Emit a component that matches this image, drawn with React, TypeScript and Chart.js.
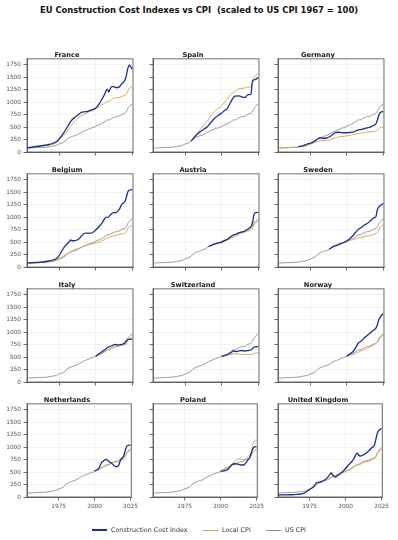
import React, { useEffect, useRef } from 'react';
import { Chart, registerables } from 'chart.js';

Chart.register(...registerables);
Chart.defaults.font.family = "'DejaVu Sans', sans-serif";

type Pt = [number, number];

// ---------- data (year, value scaled to US CPI 1967 = 100) ----------
const US_CPI: Pt[] = [[1953,80],[1954,81],[1955,80],[1956,81],[1957,84],[1958,87],[1959,87],[1960,89],[1961,90],[1962,90],[1963,92],[1964,93],[1965,94],[1966,97],[1967,100],[1968,104],[1969,110],[1970,116],[1971,121],[1972,125],[1973,133],[1974,148],[1975,161],[1976,170],[1977,181],[1978,195],[1979,217],[1980,247],[1981,272],[1982,289],[1983,298],[1984,311],[1985,322],[1986,328],[1987,340],[1988,354],[1989,371],[1990,391],[1991,408],[1992,420],[1993,433],[1994,444],[1995,456],[1996,470],[1997,481],[1998,488],[1999,499],[2000,516],[2001,530],[2002,539],[2003,551],[2004,566],[2005,585],[2006,604],[2007,621],[2008,645],[2009,642],[2010,653],[2011,673],[2012,687],[2013,698],[2014,709],[2015,710],[2016,719],[2017,734],[2018,752],[2019,766],[2020,775],[2021,811],[2022,876],[2023,912],[2024,939],[2025,961]];

const FRANCE_CCI: Pt[] = [[1953,80],[1956,95],[1959,110],[1962,120],[1965,135],[1968,150],[1970,165],[1972,190],[1974,230],[1976,300],[1978,380],[1980,470],[1982,570],[1984,650],[1986,700],[1988,745],[1990,790],[1992,805],[1994,810],[1996,830],[1998,850],[2000,880],[2002,950],[2004,1040],[2006,1150],[2007,1220],[2008,1260],[2009,1200],[2010,1270],[2011,1310],[2012,1310],[2014,1290],[2016,1300],[2018,1370],[2019,1400],[2020,1440],[2021,1540],[2022,1680],[2023,1745],[2024,1700],[2025,1660]];
const FRANCE_CPI: Pt[] = [[1953,80],[1956,90],[1959,105],[1962,115],[1965,125],[1968,140],[1970,150],[1972,170],[1974,210],[1976,270],[1978,330],[1980,400],[1982,480],[1984,560],[1986,620],[1988,680],[1990,725],[1992,760],[1994,785],[1996,810],[1998,835],[2000,865],[2002,900],[2004,940],[2006,975],[2008,1010],[2010,1030],[2012,1070],[2014,1085],[2016,1090],[2018,1110],[2020,1140],[2021,1160],[2022,1220],[2023,1280],[2024,1305],[2025,1310]];

const SPAIN_CCI: Pt[] = [[1979,217],[1980,250],[1983,350],[1985,400],[1988,460],[1990,500],[1992,570],[1995,670],[1998,740],[2000,780],[2002,830],[2004,880],[2006,990],[2007,1045],[2009,1120],[2012,1125],[2014,1100],[2016,1095],[2018,1150],[2020,1155],[2021,1420],[2023,1450],[2025,1490]];
const SPAIN_CPI: Pt[] = [[1979,217],[1980,250],[1983,360],[1985,440],[1988,550],[1990,610],[1992,700],[1995,810],[1998,880],[2000,925],[2002,1000],[2004,1070],[2006,1145],[2009,1210],[2012,1270],[2015,1277],[2017,1297],[2020,1300],[2021,1360],[2022,1480],[2023,1530],[2025,1575]];

const GERMANY_CCI: Pt[] = [[1967,110],[1970,125],[1973,160],[1975,175],[1978,220],[1980,260],[1982,285],[1984,275],[1986,280],[1988,300],[1990,340],[1992,385],[1994,395],[1996,390],[1998,385],[2000,385],[2002,390],[2004,395],[2006,420],[2008,445],[2010,450],[2012,470],[2014,485],[2016,500],[2018,525],[2020,565],[2021,640],[2022,740],[2023,790],[2024,805],[2025,810]];
const GERMANY_CPI: Pt[] = [[1953,80],[1958,82],[1962,90],[1966,100],[1970,115],[1973,140],[1975,160],[1978,190],[1980,210],[1982,225],[1985,235],[1988,240],[1990,262],[1993,290],[1995,305],[1998,315],[2000,322],[2003,340],[2005,352],[2008,370],[2010,375],[2013,395],[2015,400],[2018,410],[2020,418],[2021,435],[2022,468],[2023,490],[2025,500]];

const BELGIUM_CCI: Pt[] = [[1953,80],[1956,85],[1960,90],[1964,100],[1968,120],[1970,133],[1972,150],[1974,190],[1976,280],[1978,380],[1980,450],[1982,510],[1983,540],[1984,525],[1986,530],[1988,550],[1990,610],[1992,670],[1994,680],[1996,675],[1998,690],[2000,740],[2002,800],[2004,870],[2006,960],[2007,1000],[2008,990],[2010,1040],[2012,1090],[2014,1090],[2016,1150],[2018,1260],[2020,1310],[2021,1400],[2022,1510],[2024,1545],[2025,1550]];
const BELGIUM_CPI: Pt[] = [[1953,80],[1958,85],[1962,90],[1966,100],[1970,115],[1973,135],[1975,165],[1978,215],[1980,255],[1983,310],[1985,340],[1988,370],[1990,395],[1993,430],[1995,445],[1998,465],[2000,480],[2003,510],[2005,532],[2008,580],[2010,600],[2012,625],[2015,640],[2018,665],[2020,680],[2021,710],[2022,775],[2023,810],[2025,828]];

const AUSTRIA_CCI: Pt[] = [[1991,408],[1993,435],[1995,460],[1997,475],[2000,500],[2003,540],[2005,575],[2008,640],[2010,660],[2012,690],[2015,710],[2018,760],[2020,810],[2021,880],[2022,1040],[2023,1090],[2025,1095]];
const AUSTRIA_CPI: Pt[] = [[1991,408],[1993,440],[1995,465],[1998,480],[2000,495],[2003,530],[2005,555],[2008,600],[2010,620],[2012,660],[2015,690],[2018,720],[2020,745],[2021,770],[2022,840],[2023,885],[2025,905]];

const SWEDEN_CCI: Pt[] = [[1988,354],[1990,395],[1992,420],[1994,440],[1996,465],[1998,490],[2000,520],[2002,565],[2004,620],[2006,690],[2008,755],[2010,790],[2012,840],[2014,870],[2016,920],[2018,975],[2019,990],[2020,1010],[2021,1150],[2022,1200],[2023,1230],[2025,1270]];
const SWEDEN_CPI: Pt[] = [[1988,354],[1990,400],[1992,440],[1995,470],[1998,490],[2000,505],[2003,540],[2005,550],[2008,585],[2010,595],[2013,615],[2015,620],[2018,650],[2020,670],[2021,690],[2022,750],[2023,810],[2025,840]];

const ITALY_CCI: Pt[] = [[2000,516],[2002,560],[2004,600],[2006,640],[2008,690],[2010,710],[2012,740],[2013,755],[2015,745],[2017,750],[2019,765],[2020,780],[2021,830],[2022,850],[2023,855],[2025,858]];
const ITALY_CPI: Pt[] = [[2000,516],[2002,545],[2004,575],[2006,605],[2008,640],[2010,665],[2012,715],[2013,730],[2015,725],[2017,730],[2019,740],[2020,740],[2021,760],[2022,840],[2023,870],[2025,885]];

const SWITZERLAND_CCI: Pt[] = [[2000,516],[2002,530],[2004,550],[2006,580],[2008,620],[2010,610],[2012,625],[2014,630],[2016,620],[2018,630],[2020,640],[2021,665],[2022,700],[2023,705],[2025,710]];
const SWITZERLAND_CPI: Pt[] = [[2000,516],[2003,530],[2005,540],[2008,565],[2010,565],[2012,560],[2015,550],[2018,555],[2020,550],[2021,555],[2022,570],[2023,580],[2025,585]];

const NORWAY_CCI: Pt[] = [[2000,516],[2002,560],[2004,600],[2006,680],[2008,780],[2010,820],[2012,880],[2014,930],[2016,980],[2018,1030],[2020,1080],[2021,1150],[2022,1250],[2023,1300],[2024,1340],[2025,1360]];
const NORWAY_CPI: Pt[] = [[2000,516],[2003,545],[2005,555],[2008,600],[2010,625],[2012,645],[2015,690],[2018,740],[2020,770],[2021,800],[2022,840],[2023,890],[2025,930]];

const NETHERLANDS_CCI: Pt[] = [[2000,516],[2002,550],[2003,580],[2004,640],[2005,700],[2006,715],[2007,740],[2008,755],[2009,735],[2010,710],[2012,670],[2014,620],[2015,610],[2016,610],[2017,650],[2018,740],[2019,780],[2020,810],[2021,900],[2022,990],[2023,1030],[2025,1040]];
const NETHERLANDS_CPI: Pt[] = [[2000,516],[2003,570],[2005,590],[2008,625],[2010,650],[2012,680],[2014,700],[2016,710],[2018,730],[2020,760],[2021,780],[2022,860],[2023,900],[2025,940]];

const POLAND_CCI: Pt[] = [[2000,516],[2002,520],[2004,535],[2006,580],[2008,650],[2010,665],[2012,660],[2014,640],[2016,640],[2018,700],[2019,745],[2020,775],[2021,850],[2022,940],[2023,990],[2025,1010]];
const POLAND_CPI: Pt[] = [[2000,516],[2002,560],[2004,590],[2006,620],[2008,660],[2010,710],[2012,760],[2014,760],[2016,745],[2018,775],[2020,840],[2021,880],[2022,1000],[2023,1100],[2024,1140],[2025,1130]];

const UK_CCI: Pt[] = [[1953,40],[1958,42],[1962,45],[1966,52],[1970,68],[1972,90],[1974,130],[1976,170],[1978,215],[1980,290],[1982,295],[1984,320],[1986,350],[1988,410],[1990,480],[1991,440],[1992,410],[1993,400],[1994,420],[1996,460],[1998,510],[2000,570],[2002,640],[2004,700],[2006,780],[2008,880],[2009,840],[2010,820],[2012,840],[2014,870],[2016,920],[2018,980],[2020,1040],[2021,1150],[2022,1270],[2023,1330],[2025,1370]];
const UK_CPI: Pt[] = [[1988,354],[1990,395],[1993,430],[1996,470],[2000,515],[2003,560],[2005,595],[2008,650],[2010,670],[2012,710],[2015,730],[2018,765],[2020,780],[2021,800],[2022,880],[2023,940],[2025,975]];

const COUNTRIES = ['France', 'Spain', 'Germany', 'Belgium', 'Austria', 'Sweden', 'Italy', 'Switzerland', 'Norway', 'Netherlands', 'Poland', 'United Kingdom'];
const CCI_SERIES: Pt[][] = [FRANCE_CCI, SPAIN_CCI, GERMANY_CCI, BELGIUM_CCI, AUSTRIA_CCI, SWEDEN_CCI, ITALY_CCI, SWITZERLAND_CCI, NORWAY_CCI, NETHERLANDS_CCI, POLAND_CCI, UK_CCI];
const CPI_SERIES: Pt[][] = [FRANCE_CPI, SPAIN_CPI, GERMANY_CPI, BELGIUM_CPI, AUSTRIA_CPI, SWEDEN_CPI, ITALY_CPI, SWITZERLAND_CPI, NORWAY_CPI, NETHERLANDS_CPI, POLAND_CPI, UK_CPI];

const X_TICKS = [1975, 2000, 2025];
const Y_TICKS = [0, 250, 500, 750, 1000, 1250, 1500, 1750];
const SERIES_LABELS = ['Construction Cost Index', 'Local CPI', 'US CPI'];

// ---------- style ----------
const BLUE = '#1b2f8c';
const ORANGE = '#d9a04a';
const GRAY = '#8c8c8c';
const TICK_COLOR = '#555';

// ---------- layout ----------
const PLOT_LEFT = [27, 153, 278];
const PLOT_TOP0 = 59;
const ROW_STEP = 115;
const PLOT_W = 106;
const PLOT_H = 93;
const YAXIS_W = 26;
const TITLE_H = 12;
const XAXIS_H = 14;
const PAD_R = 8;

const framePlugin = {
  id: 'frame',
  afterDatasetsDraw(chart: any) {
    const { ctx, chartArea } = chart;
    ctx.save();
    ctx.strokeStyle = '#4d4d4d';
    ctx.lineWidth = 0.8;
    ctx.strokeRect(chartArea.left, chartArea.top, chartArea.right - chartArea.left, chartArea.bottom - chartArea.top);
    ctx.restore();
  },
};

const toXY = (pts: Pt[]) => pts.map(([x, y]) => ({ x, y }));

function Panel({ idx }: { idx: number }) {
  const ref = useRef<HTMLCanvasElement>(null);
  const row = Math.floor(idx / 3);
  const col = idx % 3;
  const w = YAXIS_W + PLOT_W + PAD_R;
  const h = TITLE_H + PLOT_H + XAXIS_H;
  const left = PLOT_LEFT[col] - YAXIS_W;
  const top = PLOT_TOP0 + ROW_STEP * row - TITLE_H;

  useEffect(() => {
    const chart = new Chart(ref.current as HTMLCanvasElement, {
      type: 'line',
      data: {
        datasets: [
          { label: SERIES_LABELS[0], data: toXY(CCI_SERIES[idx]), borderColor: BLUE, borderWidth: 1.3, pointRadius: 0 },
          { label: SERIES_LABELS[1], data: toXY(CPI_SERIES[idx]), borderColor: ORANGE, borderWidth: 0.9, pointRadius: 0 },
          { label: SERIES_LABELS[2], data: toXY(US_CPI), borderColor: GRAY, borderWidth: 0.9, pointRadius: 0 },
        ],
      },
      options: {
        animation: false,
        responsive: false,
        maintainAspectRatio: false,
        devicePixelRatio: 1,
        layout: { padding: { left: 0, right: PAD_R, top: 0, bottom: 0 } },
        elements: { line: { cubicInterpolationMode: 'monotone' } },
        plugins: {
          legend: { display: false },
          tooltip: { enabled: false },
          title: {
            display: true,
            text: COUNTRIES[idx],
            color: '#1a1a1a',
            font: { size: 6.7, weight: 'bold', lineHeight: 1.1 },
            padding: { top: 4.5, bottom: 0 },
          },
        },
        scales: {
          x: {
            type: 'linear',
            min: 1953,
            max: 2025.5,
            afterBuildTicks: (s: any) => { s.ticks = X_TICKS.map((v) => ({ value: v })); },
            afterFit: (s: any) => { s.height = XAXIS_H; },
            ticks: {
              display: row === 3,
              color: TICK_COLOR,
              font: { size: 5.8 },
              padding: 3,
              autoSkip: false,
              maxRotation: 0,
              callback: (v: any) => String(v),
            },
            grid: { color: 'rgba(0,0,0,0.09)', lineWidth: 0.6, tickLength: 3.5, tickColor: '#444', tickWidth: 0.8, drawTicks: true },
            border: { display: true, color: '#4d4d4d', width: 0.8 },
          },
          y: {
            type: 'linear',
            min: 0,
            max: 1864,
            afterBuildTicks: (s: any) => { s.ticks = Y_TICKS.map((v) => ({ value: v })); },
            afterFit: (s: any) => { s.width = YAXIS_W; },
            ticks: {
              display: col === 0,
              color: TICK_COLOR,
              font: { size: 5.8 },
              padding: 2.5,
              callback: (v: any) => String(v),
            },
            grid: { color: 'rgba(0,0,0,0.09)', lineWidth: 0.6, tickLength: 3.5, tickColor: '#444', tickWidth: 0.8, drawTicks: true },
            border: { display: true, color: '#4d4d4d', width: 0.8 },
          },
        },
      } as any,
      plugins: [framePlugin],
    });
    return () => chart.destroy();
  }, [idx]);

  return (
    <canvas
      ref={ref}
      width={w}
      height={h}
      style={{ position: 'absolute', left, top, width: w, height: h }}
    />
  );
}

function LegendItem({ x, color, label, lw }: { x: number; color: string; label: string; lw: number }) {
  return (
    <>
      <div style={{ position: 'absolute', left: x, top: 530 - lw / 2, width: 15, height: lw, background: color }} />
      <div style={{ position: 'absolute', left: x + 19, top: 525.5, fontSize: 6.4, lineHeight: '9px', color: '#333', whiteSpace: 'nowrap' }}>{label}</div>
    </>
  );
}

export default function App() {
  return (
    <div style={{ position: 'absolute', left: 0, top: 0, width: 398, height: 540, background: '#fff', fontFamily: "'DejaVu Sans', sans-serif", overflow: 'hidden' }}>
      <div style={{ position: 'absolute', left: 0, top: 4.5, width: 398, textAlign: 'center', fontSize: 8.4, fontWeight: 'bold', lineHeight: '11px', color: '#111', whiteSpace: 'pre' }}>
        {'EU Construction Cost Indexes vs CPI  (scaled to US CPI 1967 = 100)'}
      </div>
      {COUNTRIES.map((_, i) => <Panel key={i} idx={i} />)}
      <LegendItem x={92} color={BLUE} label={SERIES_LABELS[0]} lw={1.3} />
      <LegendItem x={203} color={ORANGE} label={SERIES_LABELS[1]} lw={1} />
      <LegendItem x={266} color={GRAY} label={SERIES_LABELS[2]} lw={1} />
    </div>
  );
}
